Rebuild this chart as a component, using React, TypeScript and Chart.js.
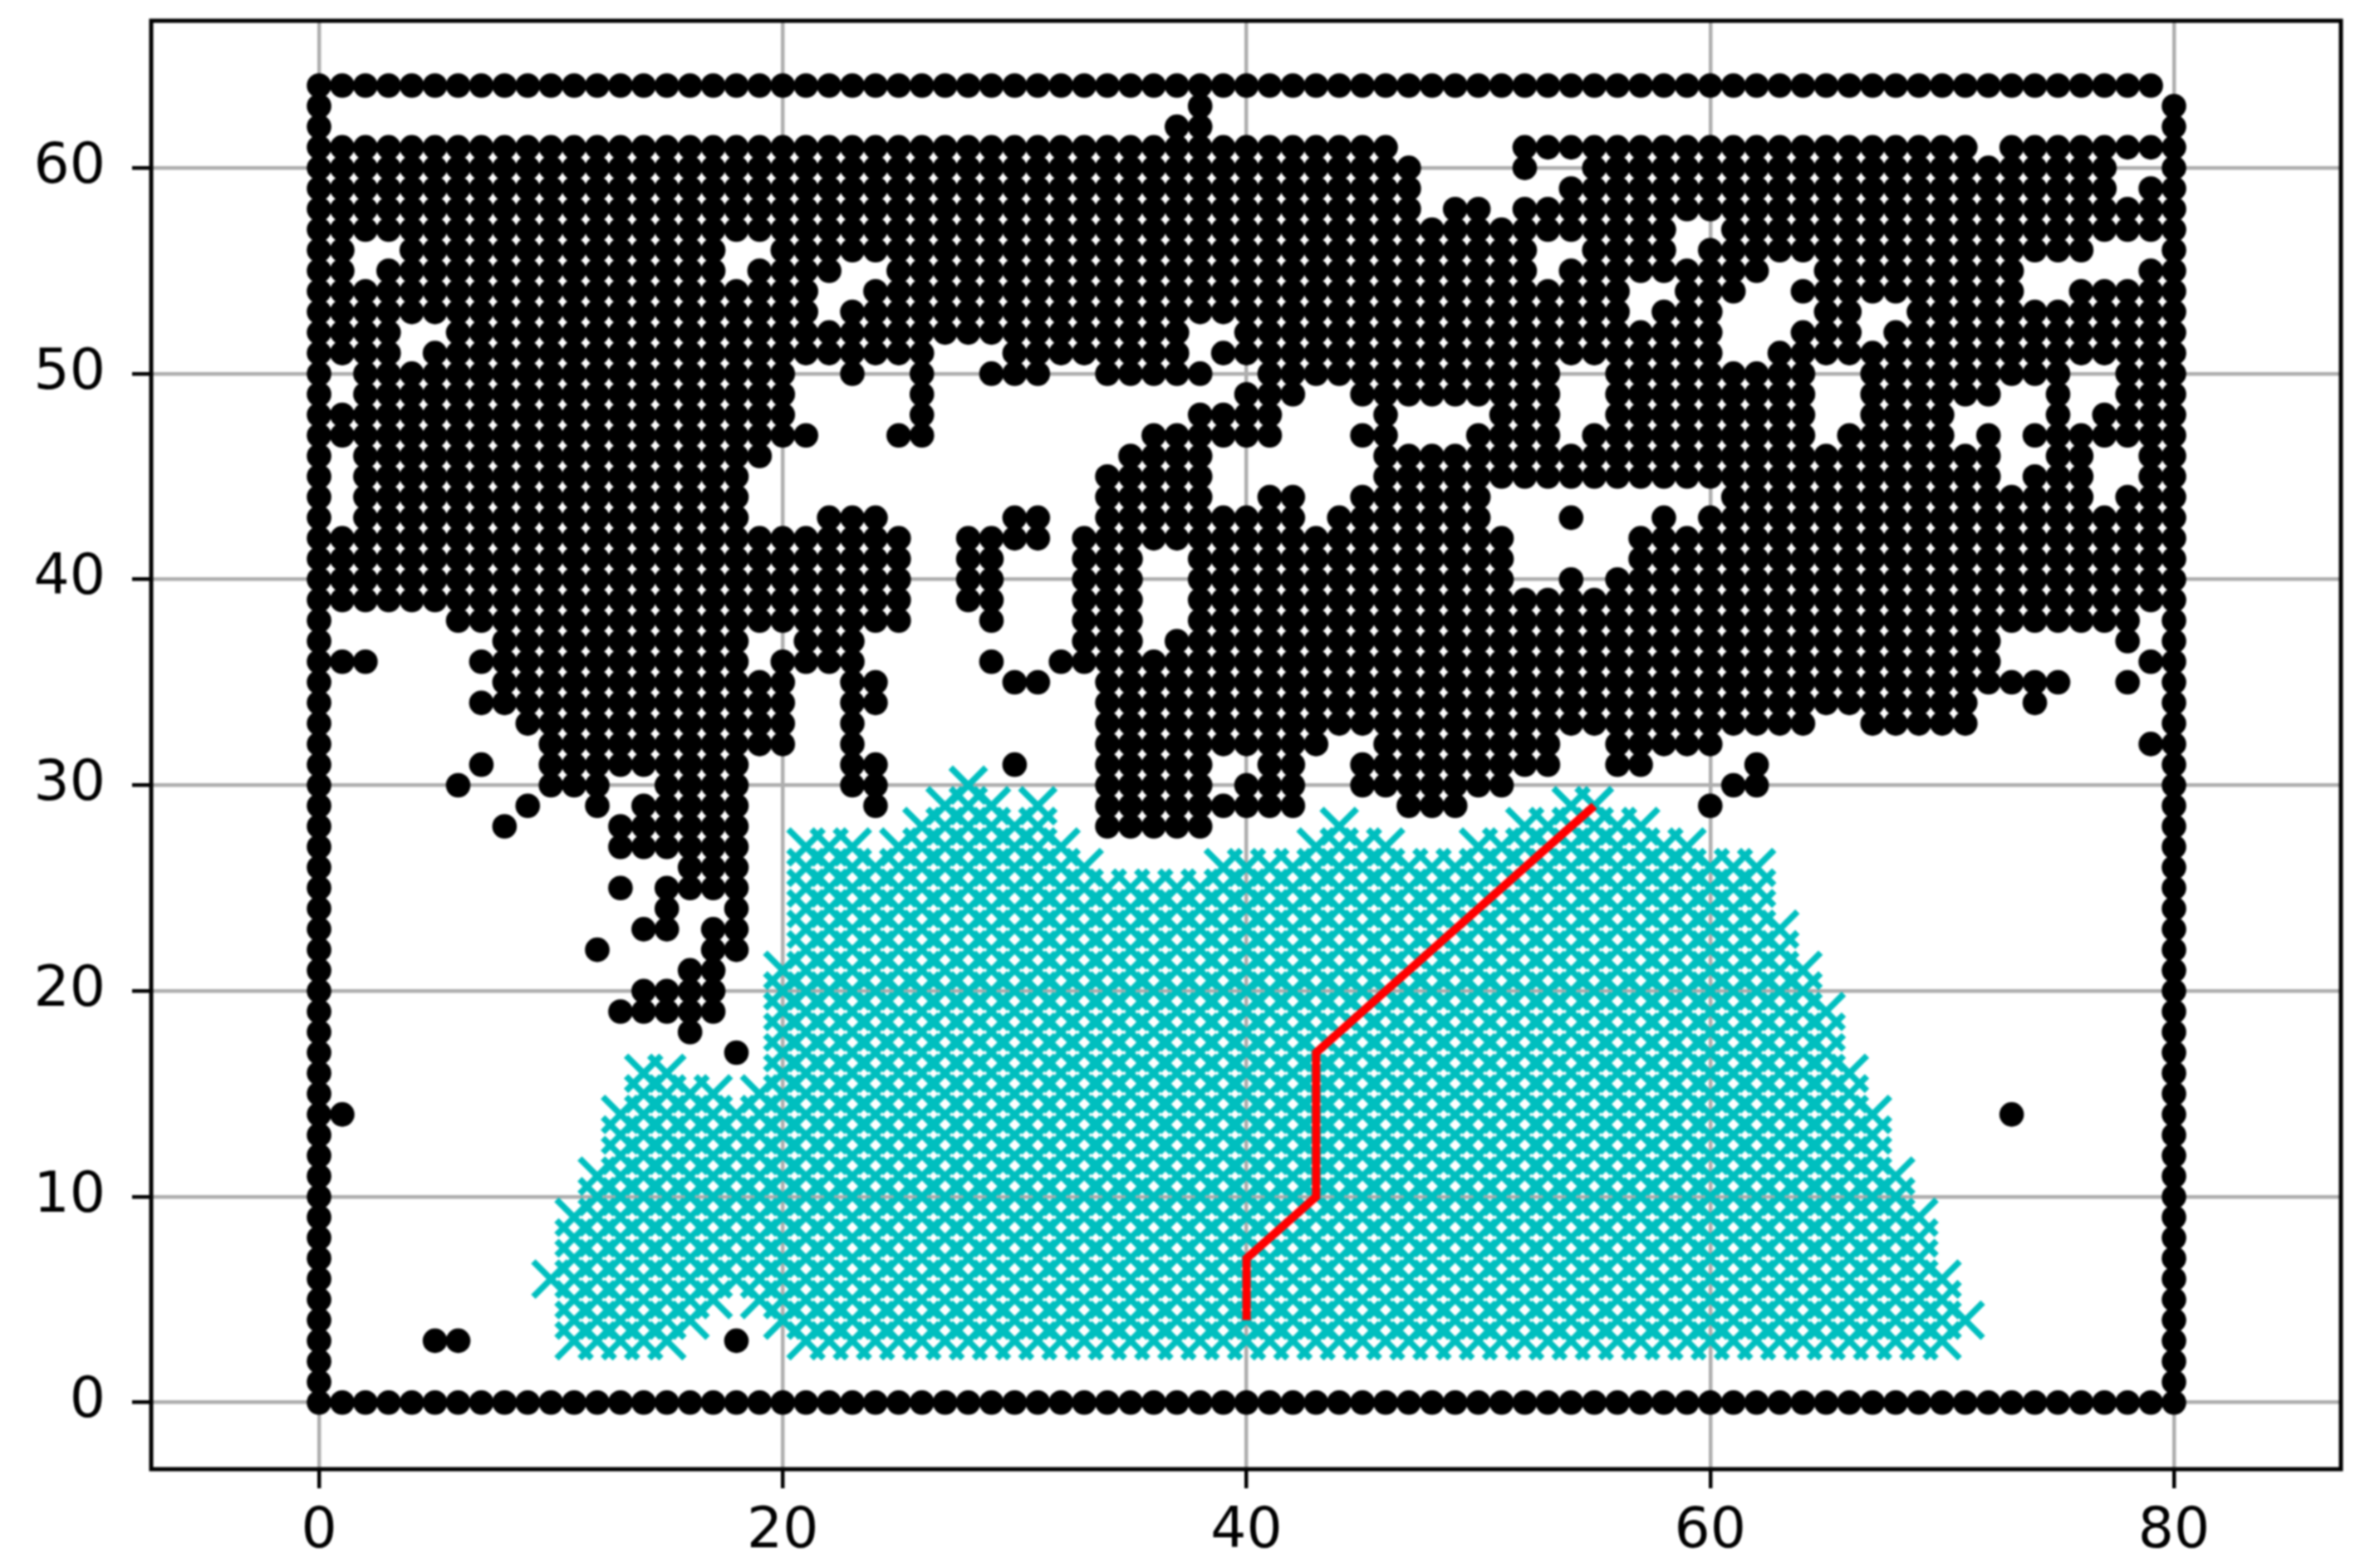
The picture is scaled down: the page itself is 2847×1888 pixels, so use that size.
import React, { useEffect, useRef } from "react";
import { Chart, registerables } from "chart.js";

Chart.register(...registerables);

const xTicks = [0, 20, 40, 60, 80];
const yTicks = [0, 10, 20, 30, 40, 50, 60];

// Each entry: [y, startX, endX, startX, endX, ...]
const obstacleRuns: number[][] = [
  [64, 0, 79],
  [63, 0, 0, 38, 38, 80, 80],
  [62, 0, 0, 37, 38, 80, 80],
  [61, 0, 46, 52, 71, 73, 80],
  [60, 0, 47, 52, 52, 55, 77, 80, 80],
  [59, 0, 47, 54, 77, 79, 80],
  [58, 0, 47, 49, 50, 52, 80],
  [57, 0, 58, 61, 80],
  [56, 0, 1, 4, 17, 20, 52, 55, 58, 60, 76, 80, 80],
  [55, 0, 1, 3, 17, 19, 22, 25, 52, 54, 62, 65, 73, 79, 80],
  [54, 0, 21, 24, 56, 59, 61, 64, 73, 76, 80],
  [53, 0, 21, 23, 56, 58, 60, 65, 66, 69, 80],
  [52, 0, 3, 6, 37, 40, 60, 64, 66, 68, 80],
  [51, 0, 3, 5, 26, 30, 37, 39, 60, 63, 80],
  [50, 0, 0, 2, 20, 23, 23, 26, 26, 29, 31, 34, 38, 41, 53, 56, 64, 67, 75, 78, 80],
  [49, 0, 0, 2, 20, 26, 26, 40, 42, 45, 53, 56, 64, 67, 72, 75, 75, 78, 80],
  [48, 0, 20, 26, 26, 38, 41, 46, 46, 51, 53, 56, 64, 67, 70, 75, 75, 77, 80],
  [47, 0, 21, 25, 26, 36, 41, 45, 46, 50, 53, 55, 64, 66, 70, 72, 72, 74, 80],
  [46, 0, 0, 2, 19, 35, 38, 46, 72, 75, 76, 79, 80],
  [45, 0, 0, 2, 18, 34, 38, 46, 72, 74, 76, 79, 80],
  [44, 0, 0, 2, 18, 34, 38, 41, 42, 45, 50, 61, 76, 78, 80],
  [43, 0, 0, 2, 18, 22, 24, 30, 31, 34, 42, 44, 50, 54, 54, 58, 58, 60, 80],
  [42, 0, 25, 28, 31, 33, 51, 57, 80],
  [41, 0, 25, 28, 29, 33, 35, 38, 51, 57, 80],
  [40, 0, 25, 28, 29, 33, 35, 38, 51, 54, 54, 56, 80],
  [39, 0, 25, 28, 29, 33, 35, 38, 80],
  [38, 0, 0, 6, 25, 29, 29, 33, 35, 38, 78, 80, 80],
  [37, 0, 0, 8, 18, 21, 23, 33, 35, 37, 72, 78, 78, 80, 80],
  [36, 0, 2, 7, 18, 20, 23, 29, 29, 32, 72, 79, 80],
  [35, 0, 0, 8, 20, 23, 24, 30, 31, 34, 75, 78, 78, 80, 80],
  [34, 0, 0, 7, 20, 23, 24, 34, 71, 74, 74, 80, 80],
  [33, 0, 0, 9, 20, 23, 23, 34, 64, 67, 71, 80, 80],
  [32, 0, 0, 10, 20, 23, 23, 34, 43, 46, 53, 56, 60, 79, 80],
  [31, 0, 0, 7, 7, 10, 18, 23, 24, 30, 30, 34, 38, 41, 42, 45, 53, 56, 57, 62, 62, 80, 80],
  [30, 0, 0, 6, 6, 10, 12, 15, 18, 23, 24, 34, 38, 40, 42, 45, 51, 61, 62, 80, 80],
  [29, 0, 0, 9, 9, 12, 12, 14, 18, 24, 24, 34, 42, 47, 49, 60, 60, 80, 80],
  [28, 0, 0, 8, 8, 13, 18, 34, 38, 80, 80],
  [27, 0, 0, 13, 18, 80, 80],
  [26, 0, 0, 16, 18, 80, 80],
  [25, 0, 0, 13, 13, 15, 18, 80, 80],
  [24, 0, 0, 15, 15, 18, 18, 80, 80],
  [23, 0, 0, 14, 15, 17, 18, 80, 80],
  [22, 0, 0, 12, 12, 17, 18, 80, 80],
  [21, 0, 0, 16, 17, 80, 80],
  [20, 0, 0, 14, 17, 80, 80],
  [19, 0, 0, 13, 17, 80, 80],
  [18, 0, 0, 16, 16, 80, 80],
  [17, 0, 0, 18, 18, 80, 80],
  [16, 0, 0, 80, 80],
  [15, 0, 0, 80, 80],
  [14, 0, 1, 73, 73, 80, 80],
  [13, 0, 0, 80, 80],
  [12, 0, 0, 80, 80],
  [11, 0, 0, 80, 80],
  [10, 0, 0, 80, 80],
  [9, 0, 0, 80, 80],
  [8, 0, 0, 80, 80],
  [7, 0, 0, 80, 80],
  [6, 0, 0, 80, 80],
  [5, 0, 0, 80, 80],
  [4, 0, 0, 80, 80],
  [3, 0, 0, 5, 6, 18, 18, 80, 80],
  [2, 0, 0, 80, 80],
  [1, 0, 0, 80, 80],
  [0, 0, 80],
];

const visitedRuns: number[][] = [
  [30, 28, 28],
  [29, 27, 29, 31, 31, 54, 55],
  [28, 26, 31, 44, 44, 52, 57],
  [27, 21, 23, 25, 32, 43, 46, 50, 59],
  [26, 21, 33, 39, 62],
  [25, 21, 62],
  [24, 21, 62],
  [23, 21, 63],
  [22, 21, 63],
  [21, 20, 64],
  [20, 20, 64],
  [19, 20, 65],
  [18, 20, 65],
  [17, 20, 65],
  [16, 14, 15, 20, 66],
  [15, 14, 17, 19, 66],
  [14, 13, 67],
  [13, 13, 67],
  [12, 13, 67],
  [11, 12, 68],
  [10, 12, 68],
  [9, 11, 69],
  [8, 11, 69],
  [7, 11, 69],
  [6, 10, 70],
  [5, 11, 17, 19, 70],
  [4, 11, 16, 20, 71],
  [3, 11, 15, 21, 70],
];

const pathX = [40, 40, 43, 43, 55];
const pathY = [4, 7, 10, 17, 29];
const startPoint = { x: 40, y: 4 };
const goalPoint = { x: 55, y: 29 };

function expandRuns(runs: number[][]) {
  const pts: { x: number; y: number }[] = [];
  for (const run of runs) {
    for (let i = 1; i < run.length; i += 2) {
      for (let x = run[i]; x <= run[i + 1]; x++) pts.push({ x, y: run[0] });
    }
  }
  return pts;
}

const frame = {
  id: "frame",
  afterDatasetsDraw(chart: any) {
    const { ctx, chartArea: a } = chart;
    ctx.save();
    ctx.strokeStyle = "#000";
    ctx.lineWidth = 5;
    ctx.strokeRect(a.left, a.top, a.right - a.left, a.bottom - a.top);
    ctx.restore();
  },
};

export default function App() {
  const ref = useRef<HTMLCanvasElement>(null);
  useEffect(() => {
    const chart = new Chart(ref.current!, {
      type: "scatter",
      data: {
        datasets: [
          {
            type: "line",
            label: "path",
            order: 0,
            data: pathX.map((x, i) => ({ x, y: pathY[i] })),
            borderColor: "#ff0000",
            borderWidth: 10,
            pointRadius: 0,
            tension: 0,
            fill: false,
          },
          {
            label: "visited",
            order: 1,
            data: expandRuns(visitedRuns),
            pointStyle: "crossRot",
            pointRadius: 30,
            pointBorderWidth: 7.5,
            pointBorderColor: "rgb(0,191,191)",
            pointBackgroundColor: "rgba(0,0,0,0)",
          },
          {
            label: "start",
            order: 2,
            data: [startPoint],
            pointStyle: "crossRot",
            pointRadius: 30,
            pointBorderWidth: 8,
            pointBorderColor: "#7f8f8f",
            pointBackgroundColor: "rgba(0,0,0,0)",
          },
          {
            label: "goal",
            order: 3,
            data: [goalPoint],
            pointStyle: "crossRot",
            pointRadius: 30,
            pointBorderWidth: 7.5,
            pointBorderColor: "#3f97d9",
            pointBackgroundColor: "rgba(0,0,0,0)",
          },
          {
            label: "obstacles",
            order: 4,
            data: expandRuns(obstacleRuns),
            pointStyle: "circle",
            pointRadius: 14.8,
            pointBorderWidth: 0,
            pointBackgroundColor: "#000",
          },
        ],
      },
      options: {
        responsive: false,
        animation: false,
        events: [],
        layout: { autoPadding: false, padding: { top: 25, right: 29, left: 0, bottom: 0 } },
        plugins: { legend: { display: false }, tooltip: { enabled: false }, title: { display: false } },
        scales: {
          x: {
            type: "linear",
            min: -7.24,
            max: 87.2,
            afterBuildTicks: (s: any) => {
              s.ticks = xTicks.map((value) => ({ value }));
            },
            afterFit: (s: any) => {
              s.height = 1888 - 1769;
              s.paddingLeft = 0;
              s.paddingRight = 0;
            },
            border: { display: false },
            grid: { color: "#adadad", lineWidth: 4.5, tickColor: "#000", tickWidth: 4.5, tickLength: 23 },
            ticks: {
              color: "#000",
              padding: 13,
              maxRotation: 0,
              autoSkip: false,
              font: { family: "DejaVu Sans", size: 68 },
            },
          },
          y: {
            type: "linear",
            min: -3.24,
            max: 67.15,
            afterBuildTicks: (s: any) => {
              s.ticks = yTicks.map((value) => ({ value }));
            },
            afterFit: (s: any) => {
              s.width = 182;
              s.paddingTop = 0;
              s.paddingBottom = 0;
            },
            border: { display: false },
            grid: { color: "#adadad", lineWidth: 4.5, tickColor: "#000", tickWidth: 4.5, tickLength: 23 },
            ticks: {
              color: "#000",
              padding: 32,
              autoSkip: false,
              font: { family: "DejaVu Sans", size: 68 },
            },
          },
        },
      },
      plugins: [frame],
    } as any);
    return () => chart.destroy();
  }, []);
  return (
    <div style={{ position: "absolute", left: 0, top: 0, width: 2847, height: 1888, background: "#fff" }}>
      <canvas ref={ref} width={2847} height={1888} style={{ display: "block", filter: "blur(1px)" }} />
    </div>
  );
}
